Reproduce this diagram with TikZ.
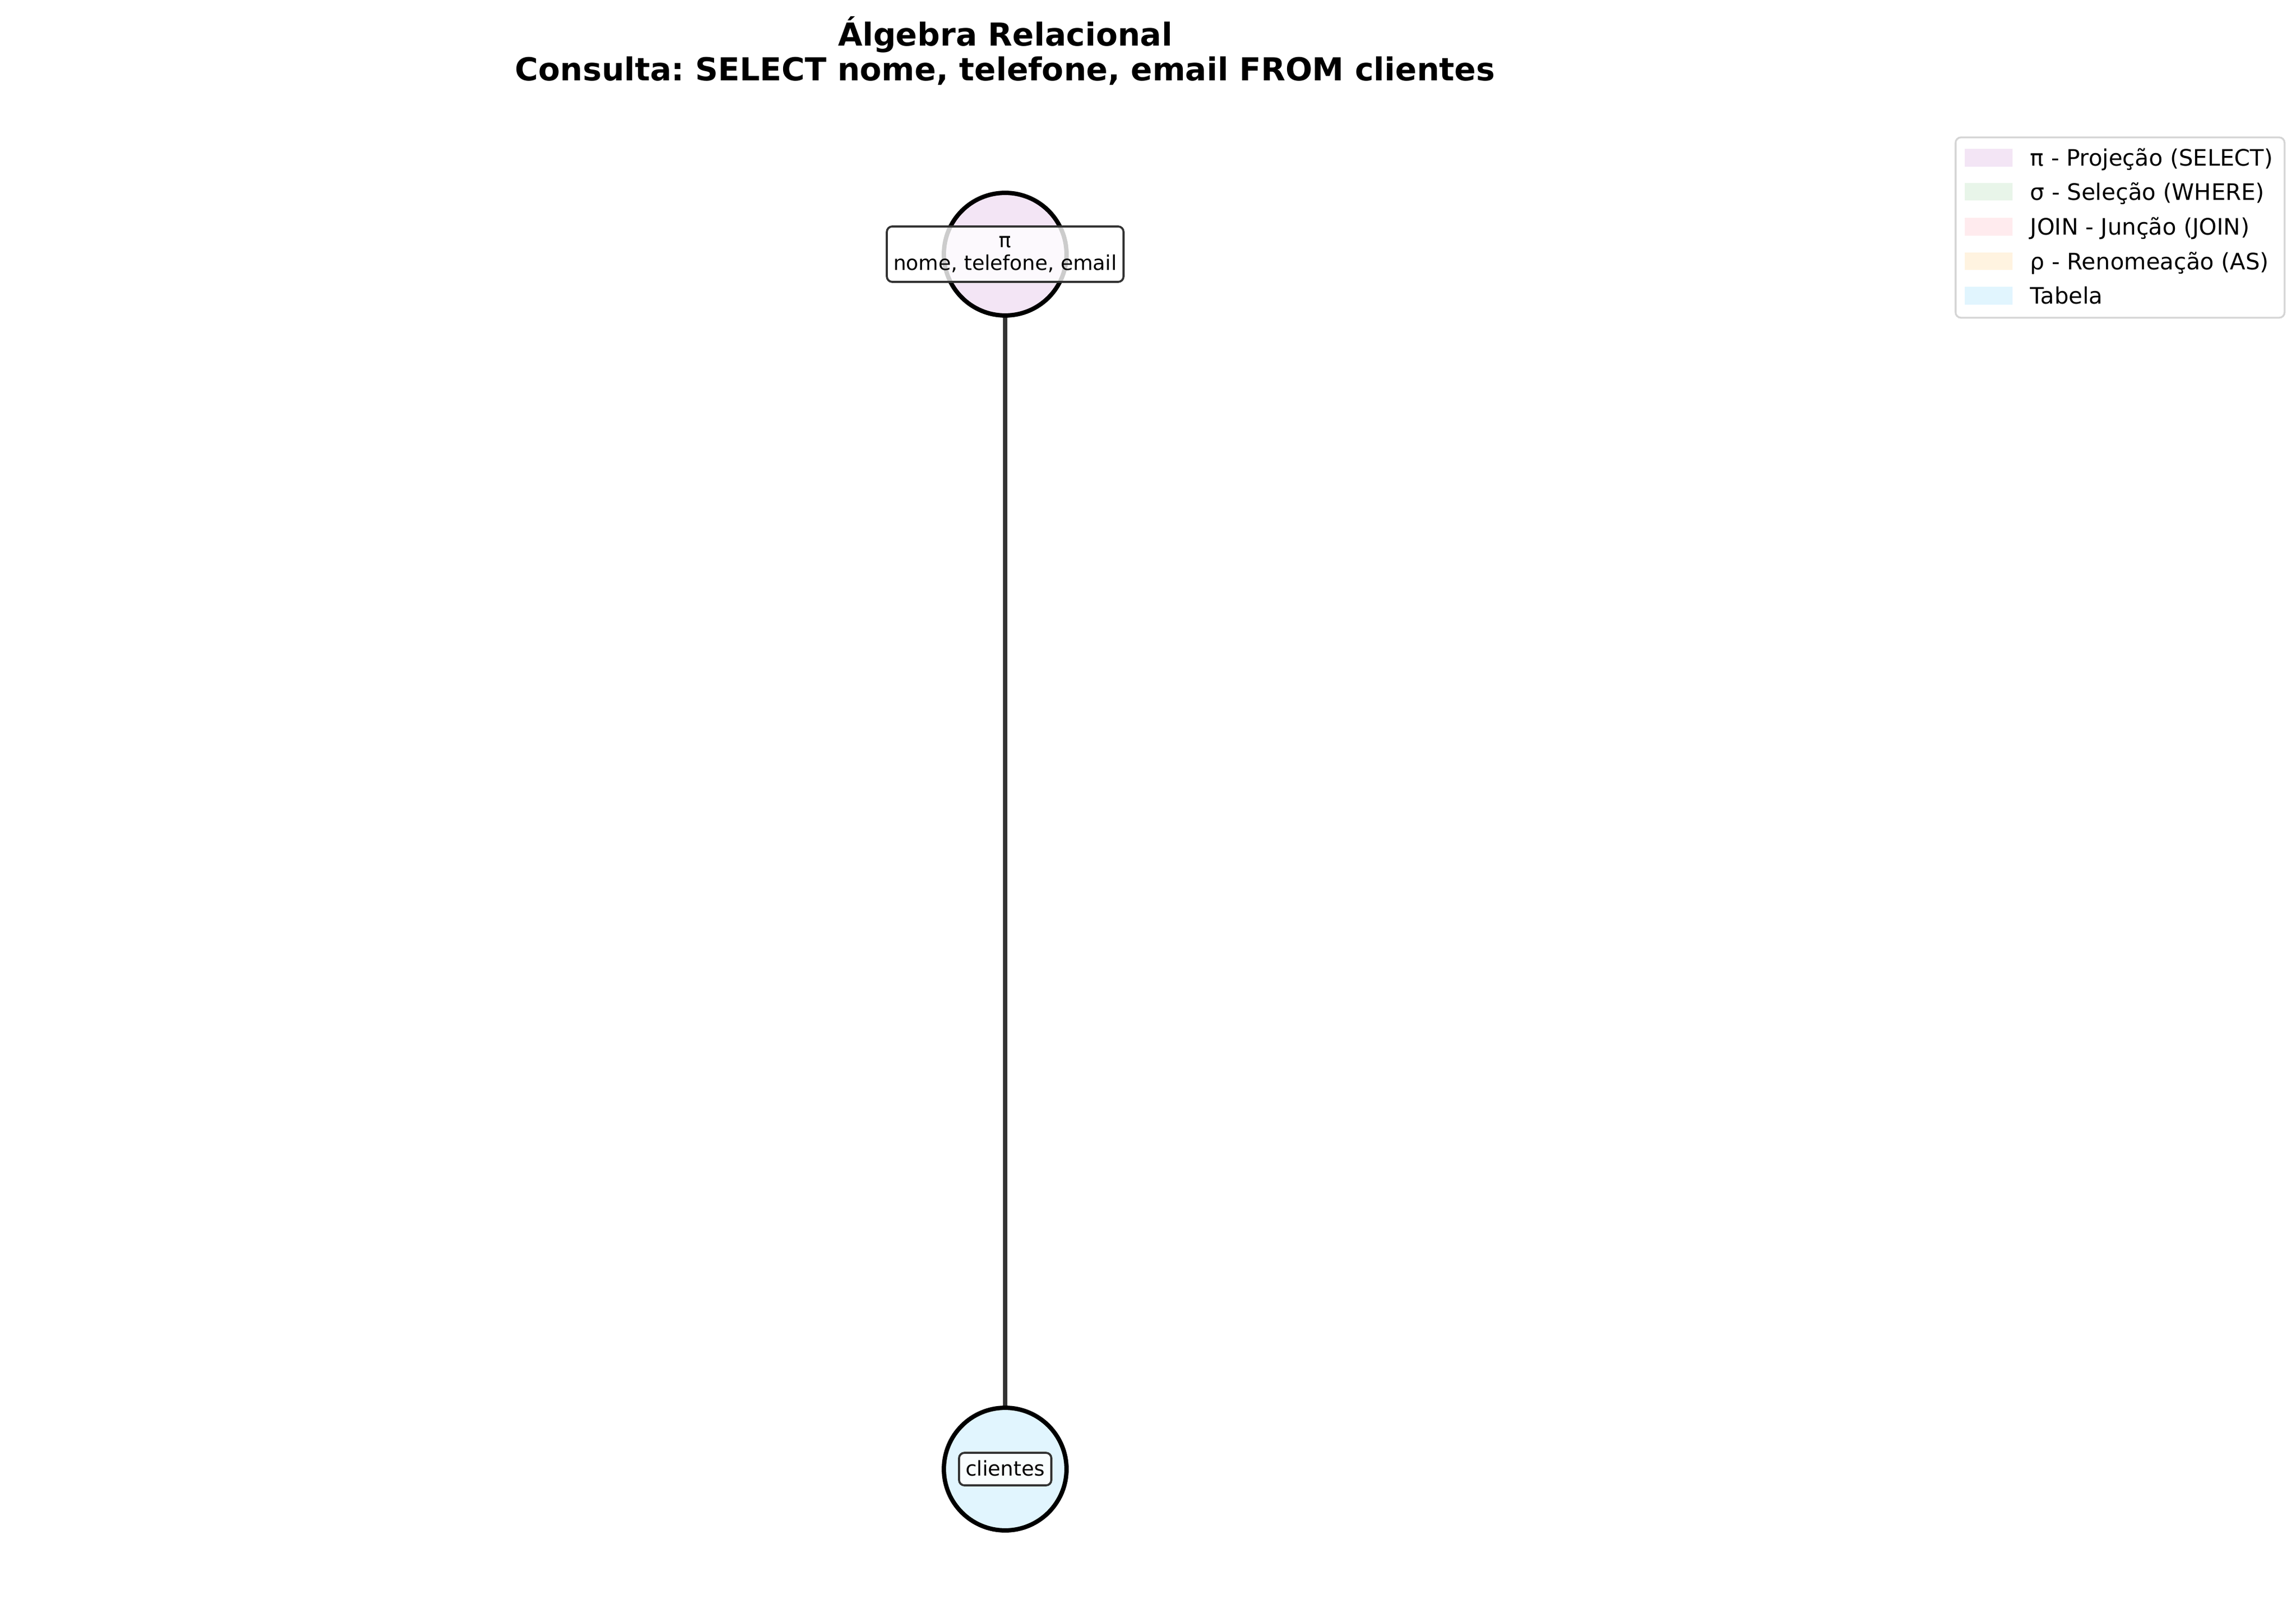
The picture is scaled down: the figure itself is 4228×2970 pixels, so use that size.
\documentclass[tikz,border=0pt]{standalone}
\usepackage{fontspec}
\setmainfont{DejaVu Sans}
\frenchspacing
\definecolor{projc}{HTML}{F3E5F5}
\definecolor{selc}{HTML}{E8F5E9}
\definecolor{joinc}{HTML}{FFEBEE}
\definecolor{renc}{HTML}{FFF3E0}
\definecolor{tabc}{HTML}{E1F5FE}
\definecolor{darkline}{HTML}{333333}
\definecolor{legedge}{HTML}{D5D5D5}
\begin{document}
\begin{tikzpicture}[x=0.24pt,y=-0.24pt,
  titletext/.style={font=\bfseries\fontsize{14}{15.36}\selectfont, anchor=base, inner sep=0pt},
  opnode/.style={circle, draw=black, line width=1.92pt, minimum size=54.2pt, inner sep=0pt},
  conn/.style={draw=darkline, line width=1.92pt},
  lbl/.style={draw=darkline, line width=0.9pt, rounded corners=2.4pt, fill=white, fill opacity=0.8, text opacity=1, align=center, inner sep=0pt, font=\fontsize{9}{10.1}\selectfont},
  legframe/.style={draw=legedge, line width=0.8pt, rounded corners=2.4pt, fill=white, minimum width=145.4pt, minimum height=79.7pt, inner sep=0pt},
  legpatch/.style={minimum width=21.1pt, minimum height=7.9pt, inner sep=0pt},
  legtext/.style={anchor=base west, inner sep=0pt, font=\fontsize{10}{12}\selectfont}
]
\useasboundingbox[fill=white] (0,0) rectangle (4228,2970);
\node[titletext] (t1) at (1851,85) {Álgebra Relacional};
\node[titletext] (t2) at (1851,149) {Consulta: SELECT nome, telefone, email FROM clientes};
\node[opnode, fill=projc] (pi) at (1851,468) {};
\node[opnode, fill=tabc] (cl) at (1851,2705) {};
\draw[conn] (pi) -- (cl);
\node[lbl, minimum width=104.6pt, minimum height=24.5pt] (pilbl) at (pi.center) {π\\nome, telefone, email};
\node[lbl, minimum width=40.8pt, minimum height=14.4pt, text depth=0.8pt] (cllbl) at (cl.center) {clientes};
% legend
\node[legframe] (leg) at (3904,419) {};
\node[legpatch, fill=projc] (p1) at (3662,290.5) {};
\node[legpatch, fill=selc] (p2) at (3662,353) {};
\node[legpatch, fill=joinc] (p3) at (3662,417.5) {};
\node[legpatch, fill=renc] (p4) at (3662,481) {};
\node[legpatch, fill=tabc] (p5) at (3662,544.5) {};
\node[legtext] (l1) at (3738,306) {π - Projeção (SELECT)};
\node[legtext] (l2) at (3738,368.5) {σ - Seleção (WHERE)};
\node[legtext] (l3) at (3738,433) {JOIN - Junção (JOIN)};
\node[legtext] (l4) at (3738,496.5) {ρ - Renomeação (AS)};
\node[legtext] (l5) at (3738,560) {Tabela};
\end{tikzpicture}
\end{document}
